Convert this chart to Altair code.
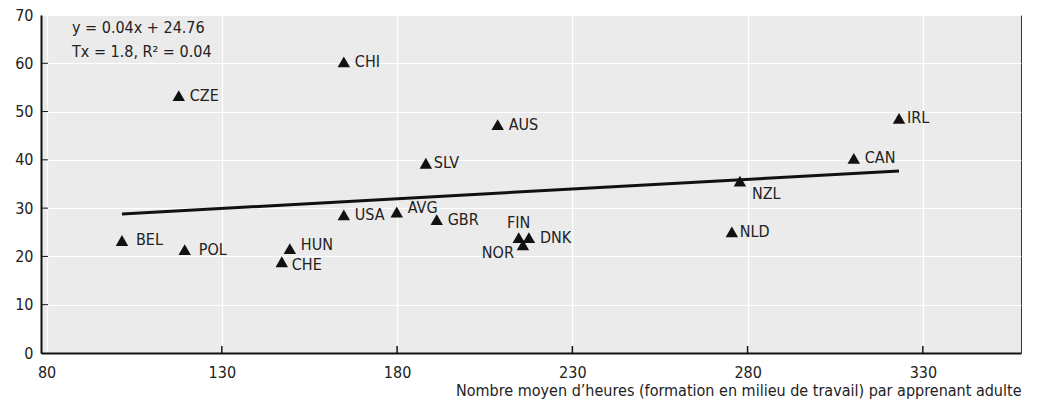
import altair as alt
import pandas as pd

countries = ["BEL", "POL", "CZE", "HUN", "CHE", "USA", "CHI", "AVG", "SLV", "GBR",
             "AUS", "FIN", "NOR", "DNK", "NLD", "NZL", "CAN", "IRL"]
hours = [101.5, 119.4, 117.7, 149.4, 147.1, 164.8, 164.8, 179.9, 188.2, 191.3,
         208.7, 214.7, 215.9, 217.6, 275.5, 277.8, 310.3, 323.2]
share = [23.3, 21.4, 53.3, 21.6, 18.9, 28.6, 60.3, 29.2, 39.3, 27.6,
         47.3, 23.9, 22.4, 23.9, 25.1, 35.6, 40.3, 48.6]
placement = ["r_far", "r_far", "r", "r_up", "r_down", "r", "r", "r_up", "r_near", "r",
             "r", "above", "left_below", "r", "r_near", "below_right", "r", "r_near"]

trend_x = [101.5, 323.2]
trend_y = [28.8, 37.7]
equation_lines = ["y = 0.04x + 24.76", "Tx = 1.8, R\u00b2 = 0.04"]
x_ticks = [80, 130, 180, 230, 280, 330]
y_ticks = [0, 10, 20, 30, 40, 50, 60, 70]
x_title = "Nombre moyen d\u2019heures (formation en milieu de travail) par apprenant adulte"

FONT = "DejaVu Sans Condensed"
FS = 16
W, H = 980, 338

df = pd.DataFrame({"country": countries, "hours": hours, "share": share, "pos": placement})
trend = pd.DataFrame({"hours": trend_x, "share": trend_y})

xs = alt.Scale(domain=[78.4, 358], nice=False, zero=False)
ys = alt.Scale(domain=[0, 70], nice=False)

x_axis = alt.Axis(values=x_ticks, title=x_title, titleAnchor="end", titleFont=FONT,
                  titleFontSize=FS, titleFontWeight="normal", titleColor="#222",
                  titlePadding=2, labelFont=FONT, labelFontSize=FS, labelColor="#222",
                  labelPadding=11, ticks=False, domainColor="#111", domainWidth=2,
                  gridColor="white", gridWidth=1.2)
y_axis = alt.Axis(values=y_ticks, title=None, labelFont=FONT, labelFontSize=FS,
                  labelColor="#222", labelPadding=8, ticks=False, domainColor="#111",
                  domainWidth=2, gridColor="white", gridWidth=1.2)


def X(field):
    return alt.X(field, scale=xs, axis=x_axis, title=x_title)


def Y(field):
    return alt.Y(field, scale=ys, axis=y_axis, title=None)


base = alt.Chart(df)

points = base.mark_point(shape="triangle-up", filled=True, color="#111", size=155, opacity=1).encode(
    x=X("hours:Q"), y=Y("share:Q")
)

line = alt.Chart(trend).mark_line(color="#111", strokeWidth=3).encode(
    x=X("hours:Q"), y=Y("share:Q")
)

styles = {
    "r": dict(align="left", baseline="middle", dx=11, dy=0),
    "r_near": dict(align="left", baseline="middle", dx=8, dy=0),
    "r_far": dict(align="left", baseline="middle", dx=14, dy=0),
    "r_up": dict(align="left", baseline="middle", dx=11, dy=-4),
    "r_down": dict(align="left", baseline="middle", dx=10, dy=3),
    "above": dict(align="center", baseline="middle", dx=0, dy=-15),
    "left_below": dict(align="right", baseline="middle", dx=-9, dy=8),
    "below_right": dict(align="left", baseline="middle", dx=12, dy=13),
}

label_layers = []
for key, st in styles.items():
    label_layers.append(
        base.transform_filter(alt.datum.pos == key).mark_text(
            font=FONT, fontSize=FS, color="#222", **st
        ).encode(x=X("hours:Q"), y=Y("share:Q"), text="country:N")
    )

eq1 = alt.Chart(pd.DataFrame({"t": [equation_lines[0]]})).mark_text(
    font=FONT, fontSize=FS, color="#222", align="left", baseline="middle"
).encode(x=alt.value(31), y=alt.value(13), text="t:N")
eq2 = alt.Chart(pd.DataFrame({"t": [equation_lines[1]]})).mark_text(
    font=FONT, fontSize=FS, color="#222", align="left", baseline="middle"
).encode(x=alt.value(31), y=alt.value(37), text="t:N")

ytick_df = pd.DataFrame({"v": y_ticks[1:-1]})
xtick_df = pd.DataFrame({"v": x_ticks[1:]})
ytick_marks = alt.Chart(ytick_df).mark_rule(color="#111", strokeWidth=1).encode(
    y=Y("v:Q"), x=alt.value(0), x2=alt.value(7)
)
xtick_marks = alt.Chart(xtick_df).mark_rule(color="#111", strokeWidth=1.5).encode(
    x=X("v:Q"), y=alt.value(H), y2=alt.value(H - 7)
)

chart = alt.layer(points, line, *label_layers, ytick_marks, xtick_marks, eq1, eq2).properties(
    width=W, height=H,
    autosize=alt.AutoSizeParams(type="none"),
    padding={"left": 33, "top": 7, "right": 8, "bottom": 52},
).configure_view(
    fill="#ebebeb", stroke="#333", strokeWidth=1
)

chart.save("out.html", embed_options={"renderer": "svg", "actions": False})
